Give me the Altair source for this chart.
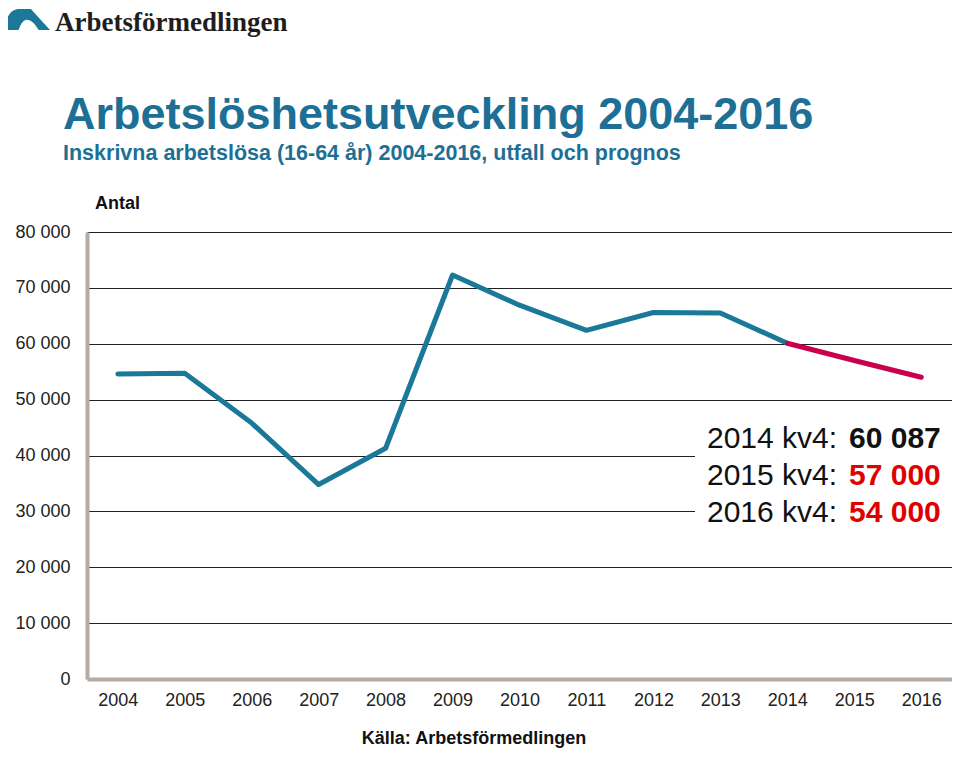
import altair as alt
import pandas as pd

# ---- data ----
years = [2004, 2005, 2006, 2007, 2008, 2009, 2010, 2011, 2012, 2013, 2014, 2015, 2016]
utfall_years = [2004, 2005, 2006, 2007, 2008, 2009, 2010, 2011, 2012, 2013, 2014]
utfall_values = [54600, 54700, 45800, 34800, 41300, 72300, 66900, 62400, 65600, 65500, 60087]
prognos_years = [2014, 2015, 2016]
prognos_values = [60087, 57000, 54000]
y_ticks = [0, 10000, 20000, 30000, 40000, 50000, 60000, 70000, 80000]

note_labels = ["2014 kv4:", "2015 kv4:", "2016 kv4:"]
note_values = ["60 087", "57 000", "54 000"]
note_colors = ["#111111", "#e00000", "#e00000"]

BLUE_LINE = "#1a7898"
BLUE_TITLE = "#1d6f95"
RED_LINE = "#c8004e"
AXIS_GRAY = "#b3ada3"
FONT = "Liberation Sans"

W = 865
df = pd.concat([
    pd.DataFrame({"year": utfall_years, "value": utfall_values, "serie": "utfall"}),
    pd.DataFrame({"year": prognos_years, "value": prognos_values, "serie": "prognos"}),
], ignore_index=True)

notes = pd.DataFrame({
    "label": note_labels,
    "num": note_values,
    "col": note_colors,
    "row": list(range(len(note_labels))),
})

x_enc = alt.X(
    "year:O",
    scale=alt.Scale(domain=years, padding=0.46),
    axis=alt.Axis(
        title=None, labelAngle=0, ticks=False, domainColor=AXIS_GRAY, domainWidth=4,
        labelFontSize=18, labelPadding=12, labelColor="#222", labelFont=FONT,
    ),
)
y_enc = alt.Y(
    "value:Q",
    scale=alt.Scale(domain=[0, 80000], nice=False),
    axis=alt.Axis(
        title=None, values=y_ticks, ticks=False, domainColor=AXIS_GRAY, domainWidth=4,
        grid=True,
        gridColor=alt.condition("datum.value === 0", alt.value("transparent"), alt.value("#222222")),
        gridWidth=1,
        labelExpr="replace(format(datum.value, ','), ',', ' ')",
        labelFontSize=18, labelPadding=17, labelColor="#222", labelFont=FONT,
    ),
)

lines = alt.Chart(df).mark_line(strokeWidth=5, strokeCap="round", strokeJoin="round").encode(
    x=x_enc,
    y=y_enc,
    color=alt.Color("serie:N", scale=alt.Scale(domain=["utfall", "prognos"], range=[BLUE_LINE, RED_LINE]), legend=None),
    detail="serie:N",
)

# white box behind the annotation
box = alt.Chart(pd.DataFrame({"a": [0]})).mark_rect(color="white").encode(
    x=alt.value(608), x2=alt.value(W), y=alt.value(186), y2=alt.value(300)
)

note_text = alt.Chart(notes).mark_text(
    align="left", baseline="alphabetic", fontSize=30, font=FONT, color="#111"
).encode(
    x=alt.value(620),
    y=alt.Y("row:Q", scale=alt.Scale(domain=[0, 1], range=[216, 253]), axis=None),
    text="label:N",
)
note_nums = alt.Chart(notes).mark_text(
    align="left", baseline="alphabetic", fontSize=30, font=FONT, fontWeight="bold"
).encode(
    x=alt.value(762),
    y=alt.Y("row:Q", scale=alt.Scale(domain=[0, 1], range=[216, 253]), axis=None),
    text="num:N",
    color=alt.Color("col:N", scale=None),
)

def txt(s, x, y, size, weight="normal", color="#111", align="left", font=FONT, baseline="alphabetic"):
    return alt.Chart(pd.DataFrame({"t": [s]})).mark_text(
        align=align, baseline=baseline, fontSize=size, fontWeight=weight, color=color, font=font
    ).encode(x=alt.value(x), y=alt.value(y), text="t:N")

title = txt("Arbetslöshetsutveckling 2004-2016", -24, -103, 45, "bold", BLUE_TITLE)
subtitle = txt("Inskrivna arbetslösa (16-64 år) 2004-2016, utfall och prognos", -24, -72, 21.5, "bold", BLUE_TITLE)
antal = txt("Antal", 8, -23, 18, "bold", "#111")
kalla = txt("Källa:  Arbetsförmedlingen", 387, 512, 18, "bold", "#111", align="center")
logo_text = txt("Arbetsförmedlingen", -32, -201, 27, "bold", "#1e1e1e", font="Liberation Serif")

logo_shape = alt.Chart(pd.DataFrame({"a": [0]})).mark_point(
    shape="M -1 0.47 C -0.97 -0.2 -0.7 -0.47 -0.35 -0.47 L 0.15 -0.47 L 1 0.47 L 0.5 0.47 C 0.25 0.05 0.0 -0.1 -0.2 0.1 C -0.3 0.2 -0.35 0.35 -0.4 0.47 Z",
    filled=True, color=BLUE_LINE, opacity=1, size=2025, strokeWidth=0,
).encode(x=alt.value(-59.5), y=alt.value(-212.5))

chart = alt.layer(
    lines, box, note_text, note_nums, title, subtitle, antal, kalla, logo_text, logo_shape
).resolve_scale(y="independent").properties(
    width=W, height=447,
    padding={"left": 79, "top": 224, "right": 0, "bottom": 69},
    autosize="none",
).configure_view(stroke=None).configure(font=FONT)

chart.save("out.html", embed_options={"renderer": "svg", "actions": False})
